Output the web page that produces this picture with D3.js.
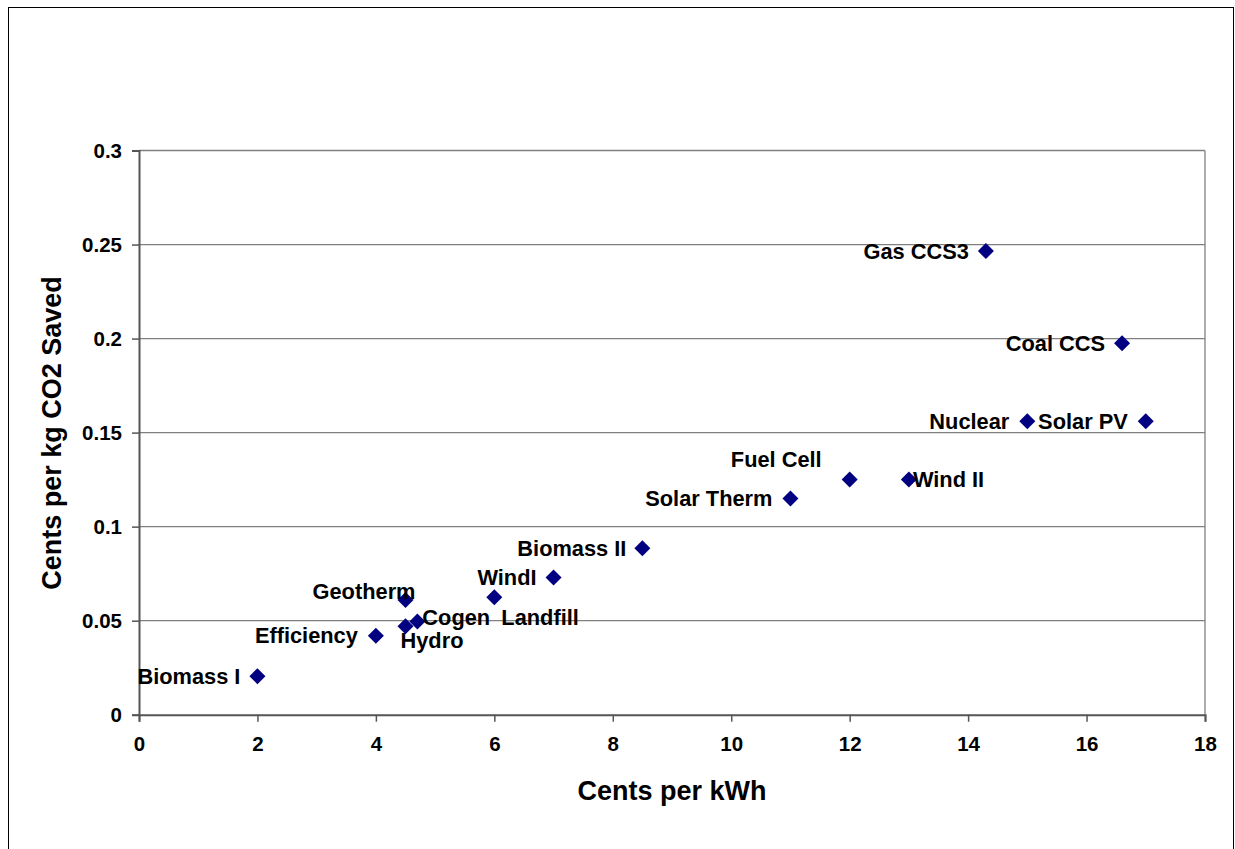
<!DOCTYPE html>
<html><head><meta charset="utf-8">
<script src="https://cdn.jsdelivr.net/npm/d3@7"></script>
<style>
html,body{margin:0;padding:0;background:#fff;}
text{font-family:"Liberation Sans",Arial,sans-serif;font-weight:bold;fill:#000;}
</style></head>
<body>
<svg id="chart" width="1235" height="849"></svg>
<script>
// ---- data ----
const technologies = ["Biomass I","Efficiency","Hydro","Cogen","Geotherm","Landfill","WindI","Biomass II","Solar Therm","Fuel Cell","Wind II","Nuclear","Solar PV","Coal CCS","Gas CCS3"];
const centsPerKWh = [2, 4, 4.5, 4.7, 4.5, 6, 7, 8.5, 11, 12, 13, 15, 17, 16.6, 14.3];
const centsPerKgCO2 = [0.0205, 0.042, 0.047, 0.0495, 0.061, 0.0625, 0.073, 0.0885, 0.115, 0.125, 0.125, 0.156, 0.156, 0.1975, 0.2465];
const xTicks = [0, 2, 4, 6, 8, 10, 12, 14, 16, 18];
const yTicks = [0, 0.05, 0.1, 0.15, 0.2, 0.25, 0.3];
const xTitle = "Cents per kWh";
const yTitle = "Cents per kg CO2 Saved";

// ---- label placement (layout only) ----
const labelLayout = {
  "Biomass I":  {a:"end",   dx:-17, dy:0},
  "Efficiency": {a:"end",   dx:-18, dy:0},
  "Hydro":      {a:"start", dx:-5,  dy:14},
  "Cogen":      {a:"start", dx:5,   dy:-4},
  "Geotherm":   {a:"end",   dx:10,  dy:-8},
  "Landfill":   {a:"start", dx:7,   dy:20},
  "WindI":      {a:"end",   dx:-17, dy:0},
  "Biomass II": {a:"end",   dx:-16, dy:0},
  "Solar Therm":{a:"end",   dx:-18, dy:0},
  "Fuel Cell":  {a:"end",   dx:-28, dy:-20},
  "Wind II":    {a:"start", dx:4,   dy:0},
  "Nuclear":    {a:"end",   dx:-18, dy:0},
  "Solar PV":   {a:"end",   dx:-18, dy:0},
  "Coal CCS":   {a:"end",   dx:-17, dy:0},
  "Gas CCS3":   {a:"end",   dx:-17, dy:0}
};

const data = technologies.map((n,i)=>({name:n, x:centsPerKWh[i], y:centsPerKgCO2[i]}));

const svg = d3.select("#chart");
// outer frame
svg.append("rect").attr("x",8.5).attr("y",7.5).attr("width",1225).attr("height",900)
  .attr("fill","#fff").attr("stroke","#000").attr("stroke-width",1);

const L=139, R=1205, T=150.5, B=714.7;
const x = d3.scaleLinear().domain([0,18]).range([L,R]);
const y = d3.scaleLinear().domain([0,0.3]).range([B,T]);

// gridlines
svg.append("g").selectAll("line").data(yTicks.filter(d=>d>0)).join("line")
  .attr("x1",L).attr("x2",R).attr("y1",d=>y(d)).attr("y2",d=>y(d))
  .attr("stroke","#808080").attr("stroke-width",1.3);
// right border
svg.append("line").attr("x1",R).attr("x2",R).attr("y1",T).attr("y2",B)
  .attr("stroke","#808080").attr("stroke-width",1.3);

// axes
const fmtY = d => d===0 ? "0" : String(d);
const yAxis = svg.append("g").attr("transform",`translate(${L},0)`)
  .call(d3.axisLeft(y).tickValues(yTicks).tickFormat(fmtY).tickSize(7).tickPadding(10));
const xAxis = svg.append("g").attr("transform",`translate(0,${B})`)
  .call(d3.axisBottom(x).tickValues(xTicks).tickFormat(d3.format("d")).tickSize(7).tickPadding(15));
[xAxis,yAxis].forEach(g=>{
  g.select(".domain").attr("stroke","#555").attr("stroke-width",2);
  g.selectAll(".tick line").attr("stroke","#555").attr("stroke-width",1.5);
  g.selectAll(".tick text").attr("font-size",20.5).attr("font-family","Liberation Sans, Arial, sans-serif").attr("font-weight","bold").attr("fill","#000");
});

// axis titles
svg.append("text").attr("x",672).attr("y",800).attr("text-anchor","middle")
  .attr("font-size",27).text(xTitle);
svg.append("text").attr("transform",`translate(61,433) rotate(-90)`).attr("text-anchor","middle")
  .attr("font-size",27).text(yTitle);

// markers
svg.append("g").selectAll("path").data(data).join("path")
  .attr("d", d3.symbol(d3.symbolSquare, 128))
  .attr("transform", d=>`translate(${x(d.x)},${y(d.y)}) rotate(45)`)
  .attr("fill","#000080");

// labels
svg.append("g").selectAll("text").data(data).join("text")
  .attr("x", d=>x(d.x)+labelLayout[d.name].dx)
  .attr("y", d=>y(d.y)+labelLayout[d.name].dy)
  .attr("text-anchor", d=>labelLayout[d.name].a)
  .attr("dominant-baseline","central")
  .attr("font-size",21.8)
  .text(d=>d.name);
</script>
</body></html>
